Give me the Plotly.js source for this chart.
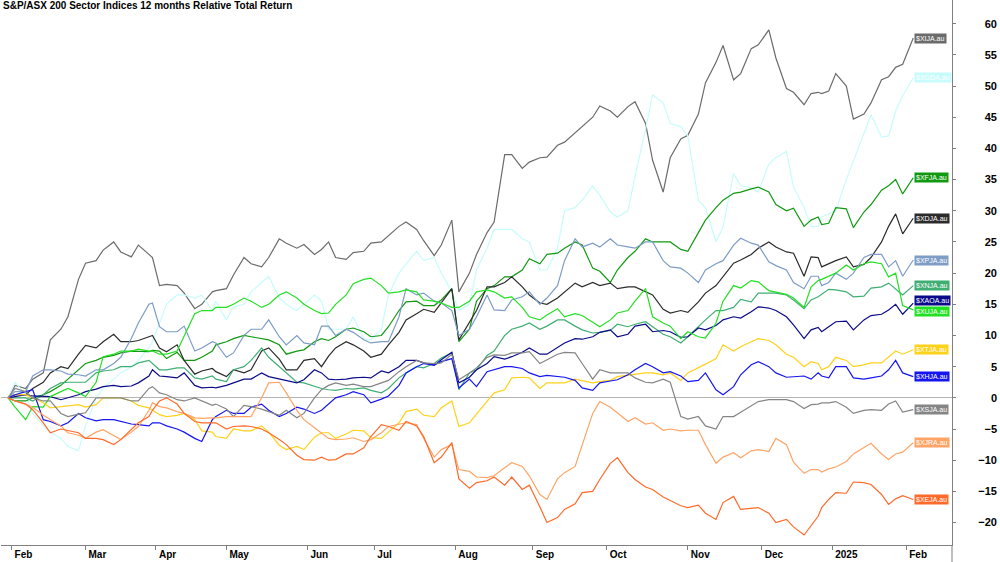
<!DOCTYPE html>
<html>
<head>
<meta charset="utf-8">
<script src="https://cdn.plot.ly/plotly-3.0.1.min.js"></script>
<style>
  html, body { margin: 0; padding: 0; background: #ffffff; }
  #chart { width: 1000px; height: 562px; }
</style>
</head>
<body>
<div id="chart"></div>
<script>
// Sample dates: Wednesday and Friday closes (ASX trading days)
const dates = [
  '2024-01-31','2024-02-02','2024-02-07','2024-02-09','2024-02-14','2024-02-16','2024-02-21','2024-02-23','2024-02-28','2024-03-01',
  '2024-03-06','2024-03-08','2024-03-13','2024-03-15','2024-03-20','2024-03-22','2024-03-27','2024-03-28','2024-04-03','2024-04-05',
  '2024-04-10','2024-04-12','2024-04-17','2024-04-19','2024-04-24','2024-04-26','2024-05-01','2024-05-03','2024-05-08','2024-05-10',
  '2024-05-15','2024-05-17','2024-05-22','2024-05-24','2024-05-29','2024-05-31','2024-06-05','2024-06-07','2024-06-12','2024-06-14',
  '2024-06-19','2024-06-21','2024-06-26','2024-06-28','2024-07-03','2024-07-05','2024-07-10','2024-07-12','2024-07-17','2024-07-19',
  '2024-07-24','2024-07-26','2024-07-31','2024-08-02','2024-08-07','2024-08-09','2024-08-14','2024-08-16','2024-08-21','2024-08-23',
  '2024-08-28','2024-08-30','2024-09-04','2024-09-06','2024-09-11','2024-09-13','2024-09-18','2024-09-20','2024-09-25','2024-09-27',
  '2024-10-02','2024-10-04','2024-10-09','2024-10-11','2024-10-16','2024-10-18','2024-10-23','2024-10-25','2024-10-30','2024-11-01',
  '2024-11-06','2024-11-08','2024-11-13','2024-11-15','2024-11-20','2024-11-22','2024-11-27','2024-11-29','2024-12-04','2024-12-06',
  '2024-12-11','2024-12-13','2024-12-18','2024-12-20','2024-12-24','2024-12-27','2024-12-31','2025-01-03','2025-01-08','2025-01-10',
  '2025-01-15','2025-01-17','2025-01-22','2025-01-24','2025-01-29','2025-01-31','2025-02-05'
];

// Relative total return (%) of each index versus the S&P/ASX 200
const xija = [0,2, 1.5,3, 4,9.3, 11,13, 19,21.6, 22,23.7, 25,23.4, 22.6,24.5, 23,22.5, 18,18.2, 18,16.8, 14.3,15, 17,17.2, 17.5,19.7, 22.5,21.5, 21,22.5, 25.5,24.8, 24,24.6, 23,23.8, 25,22.5, 22.2,23.3, 23.5,24.8, 25,26, 27.5,28.2, 27,25.2, 22.8,24.5, 28.5,17, 20,23, 26.5,28.2, 39,39, 36.8,37.8, 38.5,38.6, 40.5,41, 42.5,43.5, 45,46.8, 46,45, 46.7,47.5, 44,38.1, 33,38.5, 41.5,42.1, 45.5,50.5, 53.8,56.5, 51,52, 56,56.6, 59,54.5, 49.6,49, 47,48.8, 49,48.8, 49.2,52, 50,44.7, 45.5,47.3, 51,51.5, 53,53.5, 57.7];
const xgda = [0,2.5, 0.5,-2.5, -4.5,-5.5, -6.5,-7.8, -8.5,-4.5, 0,1.5, 3,4, 5,6, 8,9, 12,15, 16.5,16.5, 16,16.5, 14,15.5, 12.5,14.6, 15,17, 18.5,19.5, 16,15, 14,15, 16.5,15.5, 11,11, 11,13, 9.5,9.3, 11,16.5, 20,21.5, 23.5,22, 22.5,20, 17,14, 15,20.5, 24,27, 27,27, 25.5,25, 20.5,20.5, 24,30, 30.5,31.7, 34,32.5, 29.8,29, 30,35.5, 43,48.6, 47.3,44, 43.5,42, 31.7,30.5, 25,27.4, 36,34, 33.7,33, 37.5,38.5, 39.5,33.8, 30.5,27.5, 27.5,29, 29.5,30, 35,38, 42.5,45.4, 41.8,42, 46,48.5, 51.3];
const xfja = [0,-0.5, -0.5,0, 0.5,1, 2,3, 4.5,5.5, 6,6.5, 6.8,7.2, 7.5,7.5, 7.4,7.6, 7.5,6.3, 7.3,6, 6,6.5, 7.5,8.5, 9,9.5, 10,9.8, 9.5,9.3, 8.5,7, 7.5,7.7, 9,9.5, 9.2,9.8, 11,11.2, 10.6,9.8, 10,11.4, 14,15.4, 15.5,14.8, 14.8,15.7, 17.5,9, 11,15.5, 17.5,18, 19.4,19.4, 20.5,22.3, 21.5,23, 23.2,24, 25,24.5, 20.8,20.3, 18.5,20.5, 22.5,23.5, 25.5,25, 25,25, 23.8,23.5, 26.5,28.5, 30.5,31.7, 32.8,33, 33.5,33.8, 33,31, 30,30.4, 27.5,28.5, 29,27.8, 28,30.5, 30.3,27.3, 29.8,31, 33.3,34, 35,32.7, 35.3];
const xdja = [0,0.5, 0.5,1.5, 2.5,4, 5,4.7, 7,8.4, 8,9, 10.2,9, 9,9.2, 9.8,10, 8,7.4, 8.5,6, 3.8,4.3, 4.7,4.2, 3.4,4.5, 4,4.5, 7.5,8, 6.2,4.5, 4.5,6, 6.3,5, 6.7,8, 9,8.5, 7.5,6.5, 7,8.5, 10.5,12.5, 13.5,14.2, 13.7,15.2, 17.5,9.3, 12,14, 17.8,17.8, 18.5,19.4, 17.8,16.5, 15.2,15, 16,17, 18.4,17.8, 18.5,18, 18.4,17.5, 17.8,17.8, 17,16.5, 14.2,13.6, 14,13.7, 15.4,16.8, 18,19.5, 21.6,22.1, 23,24, 25,24.2, 23.4,23.2, 19.5,22.6, 22.5,21, 21.5,22, 22.6,21, 21.4,22.5, 25,27.5, 29.5,26.3, 28.8];
const xpja = [0,1, 1,3.5, 4.5,4.5, 4.3,3.8, 3.7,3.5, 4.5,4.5, 5.5,6.5, 9.5,12, 15,15.2, 11.4,10.6, 10.6,11.5, 7.5,8, 9,8.8, 6.5,7.2, 10,11, 11,12.5, 9.8,8.5, 10,8.8, 8.5,11.5, 11.5,10, 11,10.5, 9.3,8.8, 9,9, 13,17.5, 16.5,16.8, 15.5,15.2, 14,10, 11,13, 16.5,14.1, 14,15.7, 16.2,17, 15,16, 18,22, 25.5,24.2, 24.8,24.2, 25.5,24.5, 24.2,24, 25,25, 22,21, 20.8,20, 18.5,20.5, 21.5,22, 24.5,25.6, 24.8,24.5, 21.8,21.2, 20.5,18.5, 17.5,19.5, 19.5,18, 18.5,20, 19,20, 22.5,23, 23,21, 22,19.5, 22.1];
const xnja = [0,0, 0,-0.5, 0.5,1.5, 2.4,2.5, 2.5,2.5, 4,4.3, 4.5,5, 5,5.6, 6,5.5, 4.5,4.5, 4.8,4.8, 3.2,3, 3.5,3, 2.6,4.5, 5,6, 8,6.5, 5,4, 2.5,2.4, 1.8,1.5, 1.3,1.2, 1.5,1.4, 1.6,1.2, 0.8,1.5, 3.2,4, 5,4.8, 5.5,6.4, 7.2,1.3, 4,4.5, 6.8,7.5, 10,11, 11.5,12, 11,11.5, 12.5,12.5, 11.5,10.9, 10.4,10.5, 10.8,11.8, 11.4,11.8, 12.2,11.4, 10.2,9.8, 8.8,9.8, 11.5,12.5, 14,14, 14.5,15.8, 15.4,16.8, 16.8,16.8, 16.5,15.7, 14.3,15.7, 16.2,16.6, 17.4,17.3, 17,16.2, 16.3,17.6, 17.8,18.4, 17.5,16.5, 18];
const xaoa = [0,0.2, 0.5,0.3, 0.2,0.2, -0.3,0, 0.5,1, 1.4,1.8, 2,1.8, 1.9,2.4, 3.5,4.5, 3.5,3.4, 3.2,4, 2,1.6, 1.7,1.6, 2,2.4, 3,3, 4,3.4, 3,2.7, 2.4,2.9, 4.5,4, 3,2.9, 3,3.2, 3.3,3.2, 4.3,4, 5,6, 6,5.6, 5.2,6.1, 7.3,2.4, 3.3,4.5, 5.5,6.6, 6.2,6.6, 7.3,8, 7,7, 8,8.8, 9.5,9.4, 9.8,10.5, 10.9,9.8, 10.2,11.5, 11.8,10.6, 10.8,10.6, 9.7,9.8, 11.2,10.9, 11.6,12.5, 13,12.8, 13.8,14.6, 14.4,14, 13,11.7, 9.5,10.9, 11.3,10.6, 11.4,12.2, 12.3,10.9, 12.5,13.2, 13.4,14.1, 15,13.4, 15.2];
const xuja = [0,-1.5, -3.5,-1.4, -1.5,0.2, 1,1.5, 0.8,0.2, 2.5,6.6, 7,7.5, 7.5,7.8, 7.5,7.5, 7,7, 7.5,10, 13.5,14, 14,14.5, 14.5,15, 16,15.5, 14.5,15, 16.5,17, 16,15, 14,13.5, 13.6,15, 16.5,18.3, 19,19.2, 18,16.8, 17,17.3, 17,15.7, 15.5,15.2, 14.5,14.5, 15.5,17, 17.3,17, 16,16.2, 14.5,13, 12.5,13.3, 14.3,13, 13.5,13.2, 12.2,11.4, 12.5,13.6, 14,15.5, 17.5,13, 12,11.5, 9.5,10.6, 9.8,9.6, 12,15.5, 18,17.6, 18.8,18.6, 17.2,17, 16.6,16, 14.5,17.8, 18.8,19, 19.5,20, 21.3,20.5, 21.5,21.8, 21.5,19.4, 20,14.8, 14.1];
const xtja = [0,0.5, 0.5,0, -0.8,-1.6, -1.4,-1.2, -1.1,-1.5, -1.1,0, 0,0, -0.5,-1.2, -1.6,-2, -2.7,-3, -2.8,-2.5, -3.5,-5.3, -5.5,-6.2, -6.5,-5, -5.3,-5.3, -4.5,-5.5, -7.6,-8.3, -7.8,-8.3, -6.3,-5.6, -5.6,-6.5, -5.8,-5.2, -5.3,-6.4, -6.5,-5.5, -4,-2.2, -1.8,-2.8, -3,-1.6, -0.5,-4.6, -4,-2.6, -0.5,0.8, 1.3,3.2, 3.3,3.2, 1.5,2.4, 2.4,2.4, 3,2.8, 2.4,2.6, 2.8,3.4, 3.6,3.8, 4,4, 3.7,4, 2.8,4, 4.8,5.4, 6.3,8.5, 7.5,8.2, 9,9.5, 9.2,8.5, 7,6.5, 5,5.8, 5.5,4.5, 5,6.5, 6,5, 5.3,5.6, 5.6,6.6, 7.5,7, 7.7];
const xhja = [0,0.5, 1,1.3, -3.5,-3.8, -4.5,-4, -2.5,-3.2, -3.7,-3.5, -3.5,-3.8, -4.2,-4.3, -4.5,-4, -4,-4.5, -5,-5.5, -6.5,-7, -3.5,-3, -2,-2.5, -2.5,-1.5, -1,-2, -3,-2.5, -1.5,-1.8, -2.5,-2, -1,0, 0.5,1, 0.5,-0.8, -0.2,0.3, 2,4, 5,5.5, 5.3,5.8, 6.3,1.6, 3,1.8, 4.2,4.5, 5,5, 4.7,4, 3.4,3.6, 3.4,3.3, 2.8,1.6, 1.2,2.4, 2.7,2.9, 3.7,4.5, 5.5,5, 4,4.2, 3.5,2.6, 2.8,4, 1.3,0.5, 1.8,3.7, 5.3,5.8, 5,4, 3.3,3.4, 3.5,3, 4,3.5, 3.2,5, 5,3.2, 3,3.2, 3.5,4.5, 6,4, 3.4];
const xsja = [0,1.5, 1,0, -0.5,-0.5, -2.5,-3, -2.6,-2.4, 0,0, 0,0, -0.5,-0.5, 1.5,1.8, 0.8,0.5, -0.3,-0.5, 0,-0.5, -1.2,-1, -1.8,-3, -1.2,-1.4, -1.8,-2.2, -2.8,-2, -3.2,-2.5, 0,1.3, 2,2.4, 2,2.2, 1.8,1.8, 2.4,2.8, 4.2,5, 6,5.6, 5.5,5.6, 7,2.9, 4,4.8, 6.5,6.9, 6.8,7.2, 7.2,7.4, 5.5,6.1, 7,7.3, 7.2,5.5, 3,4.5, 4,4, 4,3.2, 2.5,2.4, 3,2.5, -3,-3.4, -3,-4.5, -5,-3, -3,-2.3, -1.2,-0.6, -0.3,-0.3, -0.3,-0.6, -1.7,-1.1, -1,-0.8, -0.8,-0.6, -1.5,-2.5, -2,-1.9, -2,-1, -0.5,-2.3, -1.9];
const xjra = [0,-0.5, -1,-1.5, -2.8,-3.5, -4.5,-5.6, -6,-6.5, -5.5,-5.1, -6,-6.7, -5.5,-4.6, -2,-0.8, -1.4,-1.6, -2.2,-2.5, -3.2,-3.3, -3.2,-3.2, -3,-3, -3,-3, 0,2.4, 2.5,0.8, -2,-3.5, -4.8,-5.6, -6.5,-6.7, -6.6,-6.4, -7,-6.7, -5.6,-4.6, -4.2,-4, -4.3,-6.5, -9.5,-8.3, -7.5,-11.5, -11.8,-12.7, -12.8,-12.5, -11.2,-10.4, -11,-12.5, -15.5,-16.3, -13,-12, -11,-7.5, -2.5,-0.6, -1.5,-2.4, -3.8,-3.2, -4.2,-4, -5.2,-5, -5.3,-5.2, -5.2,-7.5, -10.5,-9.5, -8.8,-9.6, -8.5,-8.3, -8.6,-6.5, -7.5,-10.3, -12.1,-11.5, -11.5,-11.9, -11.4,-11.1, -10.2,-9, -8,-7.3, -9,-9.9, -9,-8.7, -7.2];
const xeja = [0,-0.5, -1,-1.9, -4,-5.6, -5,-5.2, -5.6,-6.5, -6.5,-6.7, -7.5,-6.7, -5,-4, -3,-2, -0.5,0, -1,-2.5, -3.8,-4, -4,-4, -5,-4.6, -4.5,-4.6, -5,-5.6, -6.7,-7.5, -9.2,-9.9, -10,-9.5, -10,-9.9, -9,-9, -8,-6.2, -4.3,-4.6, -5.2,-3.8, -4.5,-6.2, -10.4,-9.5, -7.2,-13, -14.5,-13.6, -13.3,-12.7, -14,-12.7, -14.7,-14, -17.5,-20, -19.2,-17.9, -17,-15.2, -15,-13.1, -10.5,-9.6, -12,-13.1, -14.3,-14.7, -15.9,-16.5, -17.3,-17.6, -17.2,-18.5, -19.5,-16.8, -15.8,-17.9, -17.7,-17.6, -18.5,-20, -19.5,-20.7, -22,-20.5, -19,-17.6, -16.3,-15.2, -15.3,-13.5, -13.6,-13.9, -15.5,-17.1, -16.2,-15.7, -16.3];

// Axis ticks
const monthTicks = ['2024-02-01','2024-03-01','2024-04-02','2024-05-01','2024-06-03','2024-07-01','2024-08-01',
                    '2024-09-02','2024-10-01','2024-11-01','2024-12-02','2025-01-02','2025-02-03'];
const monthLabels = ['Feb','Mar','Apr','May','Jun','Jul','Aug','Sep','Oct','Nov','Dec','2025','Feb'];
const yTicks = [-20, -15, -10, -5, 0, 5, 10, 15, 20, 25, 30, 35, 40, 45, 50, 55, 60];
const asxHolidays = ['2024-03-29','2024-04-01','2024-04-25','2024-06-10','2024-12-25','2024-12-26','2025-01-01','2025-01-27'];

const FONT = '"Liberation Sans", Arial, sans-serif';

// name, values, line colour, label nudge (px)
const series = [
  { name: '$XIJA.au', y: xija, color: '#6b6b6b', nudge: 0 },
  { name: '$XGDA.au', y: xgda, color: '#c8fbfb', nudge: 0 },
  { name: '$XFJA.au', y: xfja, color: '#119911', nudge: 0 },
  { name: '$XDJA.au', y: xdja, color: '#2b2b2b', nudge: 0 },
  { name: '$XPJA.au', y: xpja, color: '#7d9cc6', nudge: 0 },
  { name: '$XNJA.au', y: xnja, color: '#3fae73', nudge: 0 },
  { name: '$XAOA.au', y: xaoa, color: '#0a0a8a', nudge: 3 },
  { name: '$XUJA.au', y: xuja, color: '#22e022', nudge: -2 },
  { name: '$XTJA.au', y: xtja, color: '#ffd21a', nudge: 0 },
  { name: '$XHJA.au', y: xhja, color: '#1515f0', nudge: 0 },
  { name: '$XSJA.au', y: xsja, color: '#858585', nudge: 0 },
  { name: '$XJRA.au', y: xjra, color: '#ffa466', nudge: 0 },
  { name: '$XEJA.au', y: xeja, color: '#ff6a2a', nudge: 0 }
];

const traces = series.map(s => ({
  type: 'scatter',
  mode: 'lines',
  name: s.name,
  x: dates,
  y: s.y,
  line: { color: s.color, width: 1.2 },
  hoverinfo: 'skip',
  showlegend: false
}));
// companion axis carrying the right-hand value labels
traces.push({ type: 'scatter', mode: 'lines', x: [], y: [], yaxis: 'y2', showlegend: false, hoverinfo: 'skip' });

const lastIdx = dates.length - 1;
const annotations = series.map(s => ({
  x: dates[lastIdx],
  y: s.y[lastIdx],
  xref: 'x', yref: 'y',
  xanchor: 'left', yanchor: 'middle',
  xshift: 1, yshift: s.nudge,
  text: s.name,
  showarrow: false,
  bgcolor: s.color,
  borderpad: 1,
  font: { family: FONT, size: 7, color: '#ffffff' }
}));

const layout = {
  width: 1000,
  height: 562,
  paper_bgcolor: '#ffffff',
  plot_bgcolor: '#ffffff',
  margin: { l: 0, r: 0, t: 0, b: 17, pad: 0 },
  showlegend: false,
  title: {
    text: 'S&P/ASX 200 Sector Indices 12 months Relative Total Return',
    x: 0.003, xanchor: 'left',
    y: 0.997, yanchor: 'top',
    font: { family: FONT, size: 10, color: '#000000', weight: 'bold' }
  },
  xaxis: {
    type: 'date',
    domain: [0.001, 0.952],
    range: ['2024-01-29', '2025-02-20'],
    rangebreaks: [ { bounds: ['sat', 'mon'] }, { values: asxHolidays } ],
    tickmode: 'array',
    tickvals: monthTicks,
    ticktext: monthLabels,
    ticks: 'outside',
    ticklen: 4,
    tickcolor: '#808080',
    ticklabelposition: 'outside right',
    ticklabelshift: 2,
    tickfont: { family: FONT, size: 10, color: '#000000', weight: 'bold' },
    showline: true,
    linecolor: '#808080',
    linewidth: 1,
    showgrid: false,
    zeroline: false,
    fixedrange: true
  },
  yaxis: {
    side: 'right',
    anchor: 'x',
    range: [-23.6, 63.8],
    tickmode: 'array',
    tickvals: yTicks,
    showticklabels: false,
    ticks: 'outside',
    ticklen: 3,
    tickcolor: '#808080',
    showline: true,
    linecolor: '#808080',
    linewidth: 1,
    showgrid: false,
    zeroline: true,
    zerolinecolor: '#b4b4b4',
    zerolinewidth: 1,
    fixedrange: true
  },
  yaxis2: {
    overlaying: 'y',
    side: 'left',
    anchor: 'free',
    position: 0.997,
    range: [-23.6, 63.8],
    tickmode: 'array',
    tickvals: yTicks,
    ticks: '',
    showline: false,
    showgrid: false,
    zeroline: false,
    tickfont: { family: FONT, size: 11, color: '#000000', weight: 'bold' },
    fixedrange: true
  },
  shapes: [
    { type: 'line', xref: 'paper', yref: 'paper', x0: 0.952, x1: 0.952, y0: 0, y1: -0.032,
      line: { color: '#808080', width: 1 } }
  ],
  annotations: annotations
};

Plotly.newPlot('chart', traces, layout, { displayModeBar: false, staticPlot: true });
</script>
</body>
</html>
